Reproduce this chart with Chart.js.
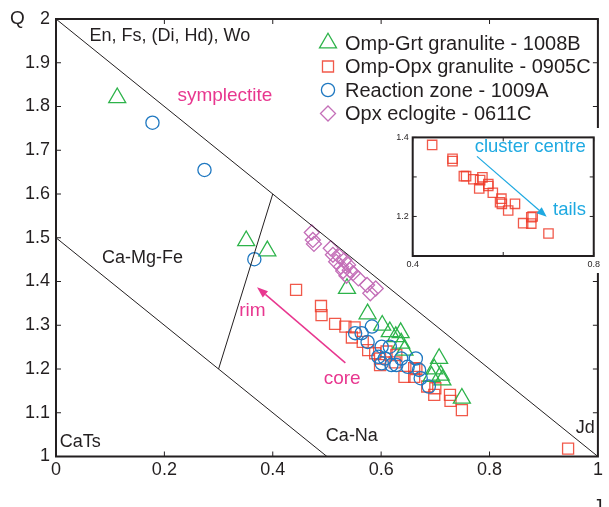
<!DOCTYPE html>
<html>
<head>
<meta charset="utf-8">
<script src="https://cdn.jsdelivr.net/npm/chart.js@4.4.0/dist/chart.umd.min.js"></script>
<style>
  html, body { margin: 0; padding: 0; background: #fff; }
  #wrap { position: relative; width: 609px; height: 507px; }
  #main { position: absolute; left: 0; top: 0; }
  #inset { position: absolute; left: 388px; top: 128px; }
</style>
</head>
<body>
<div id="wrap">
  <canvas id="main" width="609" height="507"></canvas>
  <canvas id="inset" width="215" height="145"></canvas>
</div>
<script>
// ---- data (J, Q) ----
// Omp-Grt granulite - 1008B
var grtJ = [0.113, 0.351, 0.390, 0.537, 0.575, 0.602, 0.616, 0.636, 0.627, 0.637, 0.643, 0.707, 0.698, 0.710, 0.713, 0.693, 0.749];
var grtQ = [1.820, 1.493, 1.470, 1.384, 1.326, 1.300, 1.285, 1.283, 1.274, 1.259, 1.243, 1.224, 1.200, 1.186, 1.175, 1.183, 1.133];
// Omp-Opx granulite - 0905C
var opxJ = [0.443, 0.489, 0.490, 0.515, 0.534, 0.551, 0.546, 0.576, 0.589, 0.598, 0.610, 0.628, 0.598, 0.643, 0.661, 0.661, 0.685, 0.700, 0.698, 0.727, 0.728, 0.749, 0.945, 0.566, 0.625, 0.665];
var opxQ = [1.381, 1.344, 1.323, 1.303, 1.297, 1.295, 1.272, 1.243, 1.236, 1.224, 1.240, 1.232, 1.209, 1.182, 1.202, 1.182, 1.160, 1.156, 1.141, 1.141, 1.127, 1.106, 1.018, 1.262, 1.215, 1.200];
// Reaction zone - 1009A
var rzJ = [0.178, 0.274, 0.366, 0.583, 0.552, 0.564, 0.601, 0.616, 0.595, 0.607, 0.601, 0.619, 0.637, 0.664, 0.649, 0.670, 0.673, 0.688, 0.628, 0.575];
var rzQ = [1.763, 1.655, 1.451, 1.297, 1.282, 1.282, 1.251, 1.251, 1.228, 1.224, 1.213, 1.209, 1.224, 1.224, 1.205, 1.198, 1.179, 1.160, 1.209, 1.262];
// Opx eclogite - 0611C
var eclJ = [0.472, 0.474, 0.476, 0.507, 0.511, 0.523, 0.517, 0.532, 0.526, 0.539, 0.542, 0.548, 0.558, 0.574, 0.590, 0.580, 0.530, 0.536];
var eclQ = [1.512, 1.495, 1.486, 1.476, 1.461, 1.457, 1.445, 1.449, 1.434, 1.438, 1.426, 1.419, 1.407, 1.392, 1.384, 1.373, 1.424, 1.413];

// inset: 0905C cluster
var insJ = [0.443, 0.488, 0.488, 0.513, 0.518, 0.534, 0.549, 0.554, 0.547, 0.567, 0.567, 0.577, 0.596, 0.593, 0.597, 0.611, 0.626, 0.644, 0.662, 0.662, 0.665, 0.700];
var insQ = [1.381, 1.346, 1.340, 1.302, 1.302, 1.294, 1.292, 1.299, 1.271, 1.282, 1.277, 1.260, 1.245, 1.236, 1.232, 1.215, 1.232, 1.183, 1.182, 1.198, 1.200, 1.157];

// field boundaries
var bndJ = [[0, 1], [0, 0.5], [0.3, 0.4]];
var bndQ = [[2, 1], [1.5, 1], [1.2, 1.6]];

// tick labels
var xTicks = [0, 0.2, 0.4, 0.6, 0.8, 1];
var yTicks = [1, 1.1, 1.2, 1.3, 1.4, 1.5, 1.6, 1.7, 1.8, 1.9, 2];
var insXTicks = [0.4, 0.6, 0.8];
var insXLabels = ['0.4', '', '0.8'];
var insYTicks = [1.1, 1.2, 1.3, 1.4];
var insYLabels = ['', '1.2', '', '1.4'];

var seriesNames = ['Omp-Grt granulite - 1008B', 'Omp-Opx granulite - 0905C', 'Reaction zone - 1009A', 'Opx eclogite - 0611C'];

// field labels
var fieldText = ['En, Fs, (Di, Hd), Wo', 'Ca-Mg-Fe', 'CaTs', 'Ca-Na', 'Jd'];
var fieldJ = [0.062, 0.085, 0.007, 0.498, 0.959];
var fieldQ = [1.962, 1.453, 1.032, 1.047, 1.065];
var noteText = ['symplectite', 'rim', 'core'];
var noteJ = [0.224, 0.338, 0.494];
var noteQ = [1.824, 1.333, 1.177];
var rimArrowJ = [0.534, 0.371];
var rimArrowQ = [1.214, 1.387];

var insNoteText = ['cluster centre', 'tails'];
var insNoteJ = [0.537, 0.710];
var insNoteQ = [1.375, 1.217];
var insArrowJ = [0.542, 0.696];
var insArrowQ = [1.352, 1.199];

// ---- styles ----
var FONT = '"Liberation Sans", Arial, Helvetica, sans-serif';
var INK = '#231F20';
var GREEN = '#2DB34A';
var RED = 'rgba(238,60,42,0.85)';
var BLUE = '#1F78C1';
var PURPLE = '#C46FB8';
var PINK = '#E8378F';
var CYAN = '#1EA9E1';

function pts(xs, ys) {
  return xs.map(function (v, i) { return { x: v, y: ys[i] }; });
}
function fmt(v) { return String(Math.round(v * 100) / 100); }

function drawMarker(ctx, style, r, color, lw, x, y) {
  ctx.save();
  ctx.strokeStyle = color;
  ctx.fillStyle = 'rgba(0,0,0,0)';
  ctx.lineWidth = lw;
  Chart.helpers.drawPoint(ctx, { pointStyle: style, rotation: 0, radius: r, borderWidth: lw }, x, y);
  ctx.restore();
}

function arrow(ctx, x0, y0, x1, y1, color, lw, head, hw) {
  var ang = Math.atan2(y1 - y0, x1 - x0);
  var bx = x1 - head * Math.cos(ang), by = y1 - head * Math.sin(ang);
  ctx.save();
  ctx.strokeStyle = color; ctx.fillStyle = color; ctx.lineWidth = lw;
  ctx.beginPath(); ctx.moveTo(x0, y0); ctx.lineTo(bx, by); ctx.stroke();
  ctx.beginPath();
  ctx.moveTo(x1, y1);
  ctx.lineTo(bx + hw * Math.sin(ang), by - hw * Math.cos(ang));
  ctx.lineTo(bx - hw * Math.sin(ang), by + hw * Math.cos(ang));
  ctx.closePath(); ctx.fill();
  ctx.restore();
}

// box + inward ticks on all four sides
var frame = {
  id: 'frame',
  afterDatasetsDraw: function (chart, args, o) {
    var ctx = chart.ctx, a = chart.chartArea, x = chart.scales.x, y = chart.scales.y;
    ctx.save();
    ctx.strokeStyle = INK;
    ctx.lineWidth = 1;
    ctx.beginPath();
    x.ticks.forEach(function (t) {
      var p = x.getPixelForValue(t.value);
      ctx.moveTo(p, a.bottom); ctx.lineTo(p, a.bottom - o.len);
      ctx.moveTo(p, a.top); ctx.lineTo(p, a.top + o.len);
    });
    y.ticks.forEach(function (t) {
      var p = y.getPixelForValue(t.value);
      ctx.moveTo(a.left, p); ctx.lineTo(a.left + o.len, p);
      ctx.moveTo(a.right, p); ctx.lineTo(a.right - o.len, p);
    });
    ctx.stroke();
    ctx.lineWidth = o.lw;
    ctx.strokeRect(a.left, a.top, a.right - a.left, a.bottom - a.top);
    ctx.restore();
  }
};

var decor = {
  id: 'decor',
  afterDraw: function (chart) {
    var ctx = chart.ctx, x = chart.scales.x, y = chart.scales.y, a = chart.chartArea;
    ctx.save();
    ctx.textBaseline = 'middle';
    ctx.textAlign = 'left';
    ctx.fillStyle = INK;
    ctx.font = '18px ' + FONT;
    fieldText.forEach(function (t, i) {
      ctx.fillText(t, x.getPixelForValue(fieldJ[i]), y.getPixelForValue(fieldQ[i]));
    });
    ctx.fillStyle = PINK;
    ctx.font = '19px ' + FONT;
    noteText.forEach(function (t, i) {
      ctx.fillText(t, x.getPixelForValue(noteJ[i]), y.getPixelForValue(noteQ[i]));
    });
    arrow(ctx, x.getPixelForValue(rimArrowJ[0]), y.getPixelForValue(rimArrowQ[0]),
      x.getPixelForValue(rimArrowJ[1]), y.getPixelForValue(rimArrowQ[1]), PINK, 1.5, 11, 4);

    // axis names
    ctx.fillStyle = INK;
    ctx.font = '19px ' + FONT;
    ctx.fillText('Q', 10, a.top);
    ctx.textBaseline = 'alphabetic';
    ctx.fillText('J', a.right - 5, 512);

    // legend, in the figure's order
    ctx.font = '20px ' + FONT;
    ctx.textBaseline = 'middle';
    seriesNames.forEach(function (name, i) {
      var d = chart.data.datasets.filter(function (s) { return s.label === name; })[0];
      var ly = a.top + 24 + i * 23.5;
      drawMarker(ctx, d.pointStyle, d.pointRadius, d.borderColor, d.borderWidth, 328, ly);
      ctx.fillStyle = INK;
      ctx.fillText(d.label, 345, ly + 1);
    });
    ctx.restore();
  }
};

function series(label, xs, ys, style, r, color) {
  return {
    label: label, data: pts(xs, ys),
    pointStyle: style, pointRadius: r, borderColor: color,
    backgroundColor: 'rgba(0,0,0,0)', borderWidth: 1.3, showLine: false
  };
}

var datasets = [];
bndJ.forEach(function (bj, i) {
  datasets.push({ data: pts(bj, bndQ[i]), showLine: true, pointRadius: 0, borderColor: INK, borderWidth: 1, fill: false });
});
datasets.push(series(seriesNames[3], eclJ, eclQ, 'rectRot', 7.5, PURPLE));
datasets.push(series(seriesNames[2], rzJ, rzQ, 'circle', 6.6, BLUE));
datasets.push(series(seriesNames[0], grtJ, grtQ, 'triangle', 9.8, GREEN));
datasets.push(series(seriesNames[1], opxJ, opxQ, 'rect', 7.8, RED));

var tickFont = { size: 18, family: FONT };

new Chart(document.getElementById('main'), {
  type: 'scatter',
  data: { datasets: datasets },
  options: {
    responsive: false,
    animation: false,
    layout: { padding: { top: 19, right: 2.5, left: 0, bottom: 0 } },
    plugins: { legend: { display: false }, tooltip: { enabled: false }, frame: { len: 5, lw: 2 } },
    scales: {
      x: {
        type: 'linear', min: 0, max: 1,
        afterBuildTicks: function (s) { s.ticks = xTicks.map(function (v) { return { value: v }; }); },
        afterFit: function (s) { s.height = 50.5; },
        ticks: { font: tickFont, color: INK, padding: 3, maxRotation: 0, autoSkip: false, callback: fmt },
        grid: { display: false, drawTicks: false },
        border: { display: false }
      },
      y: {
        type: 'linear', min: 1, max: 2,
        afterBuildTicks: function (s) { s.ticks = yTicks.map(function (v) { return { value: v }; }); },
        afterFit: function (s) { s.width = 56; },
        ticks: { font: tickFont, color: INK, padding: 6, autoSkip: false, callback: fmt },
        grid: { display: false, drawTicks: false },
        border: { display: false }
      }
    }
  },
  plugins: [frame, decor]
});

var insDecor = {
  id: 'insDecor',
  beforeDraw: function (chart) {
    var ctx = chart.ctx;
    ctx.save();
    ctx.fillStyle = '#fff';
    ctx.fillRect(0, 0, chart.width, chart.height);
    ctx.restore();
  },
  afterDraw: function (chart) {
    var ctx = chart.ctx, x = chart.scales.x, y = chart.scales.y;
    ctx.save();
    ctx.textBaseline = 'middle';
    ctx.fillStyle = CYAN;
    ctx.font = '18.5px ' + FONT;
    insNoteText.forEach(function (t, i) {
      ctx.fillText(t, x.getPixelForValue(insNoteJ[i]), y.getPixelForValue(insNoteQ[i]));
    });
    arrow(ctx, x.getPixelForValue(insArrowJ[0]), y.getPixelForValue(insArrowQ[0]),
      x.getPixelForValue(insArrowJ[1]), y.getPixelForValue(insArrowQ[1]), CYAN, 1.2, 10, 4);
    ctx.restore();
  }
};

var smallFont = { size: 9, family: FONT };
new Chart(document.getElementById('inset'), {
  type: 'scatter',
  data: {
    datasets: [{
      data: pts(insJ, insQ), pointStyle: 'rect', pointRadius: 6.6,
      borderColor: RED, backgroundColor: 'rgba(0,0,0,0)', borderWidth: 1.3
    }]
  },
  options: {
    responsive: false,
    animation: false,
    layout: { padding: { top: 8, right: 9, left: 0, bottom: 0 } },
    plugins: { legend: { display: false }, tooltip: { enabled: false }, frame: { len: 4, lw: 2 } },
    scales: {
      x: {
        type: 'linear', min: 0.4, max: 0.8,
        afterBuildTicks: function (s) { s.ticks = insXTicks.map(function (v) { return { value: v }; }); },
        afterFit: function (s) { s.height = 17; },
        ticks: { font: smallFont, color: INK, padding: 3, maxRotation: 0, autoSkip: false,
          callback: function (v, i) { return insXLabels[i]; } },
        grid: { display: false, drawTicks: false },
        border: { display: false }
      },
      y: {
        type: 'linear', min: 1.1, max: 1.4,
        afterBuildTicks: function (s) { s.ticks = insYTicks.map(function (v) { return { value: v }; }); },
        afterFit: function (s) { s.width = 24.7; },
        ticks: { font: smallFont, color: INK, padding: 4, autoSkip: false,
          callback: function (v, i) { return insYLabels[i]; } },
        grid: { display: false, drawTicks: false },
        border: { display: false }
      }
    }
  },
  plugins: [frame, insDecor]
});
</script>
</body>
</html>
